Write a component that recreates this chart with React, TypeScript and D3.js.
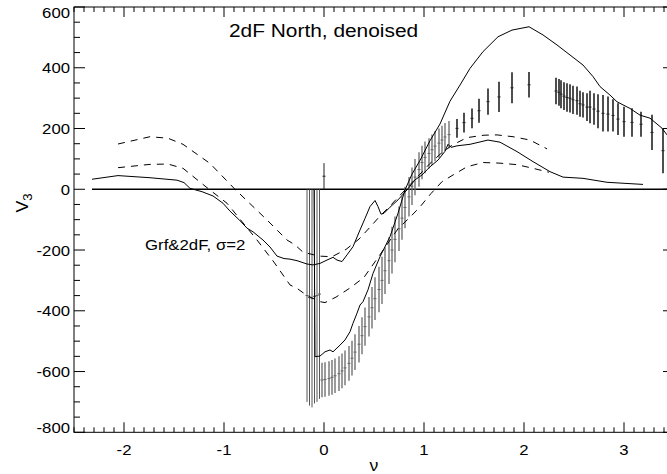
import * as d3 from 'd3';

// Grf&2dF, sigma=2 (solid, lower)
const grfNu = [-2.32, -2.06, -1.74, -1.47, -1.40, -1.34, -1.22, -1.11, -1.01, -0.94, -0.85, -0.77, -0.71, -0.61, -0.54, -0.47, -0.40, -0.34, -0.27, -0.17, -0.11, -0.04, 0.03, 0.09, 0.13, 0.18, 0.23, 0.29, 0.36, 0.41, 0.46, 0.51, 0.54, 0.57, 0.60, 0.66, 0.74, 0.83, 0.91, 0.98, 1.06, 1.14, 1.21, 1.24, 1.27, 1.33, 1.46, 1.64, 1.76, 1.93, 2.09, 2.26, 2.39, 2.59, 2.83, 3.19];
const grfV = [33, 45, 38, 30, 22, 3, -8, -22, -46, -72, -100, -128, -140, -167, -190, -220, -228, -230, -235, -246, -249, -244, -233, -224, -233, -238, -216, -189, -134, -96, -57, -37, -57, -82, -79, -59, -35, -2, 31, 47, 74, 96, 125, 148, 138, 143, 148, 162, 155, 124, 91, 58, 40, 36, 23, 16];

// 2dF North (solid, upper)
const obsNu = [-0.10, -0.09, -0.04, 0.01, 0.06, 0.09, 0.16, 0.21, 0.26, 0.29, 0.33, 0.36, 0.39, 0.44, 0.49, 0.56, 0.66, 0.74, 0.81, 0.88, 0.96, 1.06, 1.16, 1.26, 1.36, 1.46, 1.59, 1.74, 1.88, 2.05, 2.19, 2.33, 2.46, 2.59, 2.69, 2.76, 2.86, 2.93, 3.06, 3.16, 3.26, 3.38, 3.43, 3.50];
const obsV = [0, -551, -549, -535, -529, -535, -513, -496, -469, -441, -408, -381, -370, -331, -277, -222, -156, -79, -2, 50, 95, 160, 215, 290, 343, 398, 453, 502, 524, 535, 508, 475, 442, 409, 371, 338, 310, 288, 266, 244, 234, 201, 179, 165];

// dashed bands
const hiNu = [-2.06, -1.74, -1.56, -1.41, -1.14, -0.89, -0.57, -0.37, -0.29, -0.21, -0.05, 0.08, 0.22, 0.35, 0.46, 0.56, 0.66, 0.76, 0.86, 0.96, 1.06, 1.16, 1.28, 1.43, 1.60, 1.73, 1.89, 2.06, 2.13, 2.23];
const hiV = [149, 173, 168, 148, 85, 0, -101, -167, -183, -207, -220, -222, -198, -164, -125, -88, -55, -20, 15, 50, 85, 115, 145, 170, 178, 179, 173, 162, 150, 133];
const loNu = [-2.06, -1.74, -1.56, -1.41, -1.15, -0.97, -0.67, -0.50, -0.34, -0.27, -0.17, -0.04, 0.01, 0.12, 0.26, 0.40, 0.55, 0.74, 0.86, 0.96, 1.07, 1.18, 1.29, 1.43, 1.59, 1.76, 1.93, 2.09, 2.25];
const loV = [71, 82, 83, 69, 0, -46, -167, -240, -315, -326, -350, -370, -373, -355, -325, -290, -220, -130, -92, -58, -14, 25, 47, 74, 88, 86, 81, 69, 56];

// error bars, dense part
const barNu = [-0.02, 0.01, 0.05, 0.08, 0.11, 0.15, 0.18, 0.21, 0.25, 0.28, 0.31, 0.35, 0.38, 0.41, 0.45, 0.48, 0.51, 0.55, 0.58, 0.61, 0.65, 0.68, 0.71, 0.75, 0.78, 0.81, 0.85, 0.88, 0.91, 0.95, 0.98, 1.01, 1.05, 1.08, 1.11, 1.15, 1.18, 1.21, 1.25];
const barLo = [-685, -683, -680, -676, -671, -664, -655, -645, -630, -613, -595, -570, -543, -515, -485, -458, -430, -405, -378, -345, -312, -277, -240, -203, -166, -128, -90, -52, -20, 8, 33, 53, 68, 80, 92, 104, 115, 126, 135];
const barHi = [-571, -569, -566, -562, -557, -550, -541, -531, -516, -499, -477, -450, -421, -389, -355, -322, -290, -255, -222, -191, -158, -123, -90, -57, -24, 8, 40, 72, 100, 122, 143, 157, 168, 180, 192, 200, 209, 218, 225];

// error bars near nu=0
const nearNu = [-0.17, -0.145, -0.12, -0.095, -0.07, -0.045];
const nearLo = [-700, -712, -718, -705, -700, -690];
const nearHi = [0, 0, 0, 0, 0, 0];
const spikeNu = [0.0];
const spikeLo = [0];
const spikeHi = [86];

// error bars, sparse + right cluster
const sparseNu = [1.33, 1.40, 1.48, 1.55, 1.64, 1.75, 1.88, 2.05, 2.32, 2.35, 2.37, 2.40, 2.43, 2.46, 2.49, 2.53, 2.56, 2.59, 2.63, 2.66, 2.70, 2.74, 2.79, 2.84, 2.89, 2.94, 3.00, 3.08, 3.17, 3.28, 3.39];
const sparseLo = [170, 187, 201, 219, 245, 254, 283, 302, 280, 275, 267, 261, 255, 253, 248, 245, 239, 236, 225, 217, 212, 201, 190, 190, 190, 179, 173, 173, 173, 129, 53];
const sparseHi = [231, 252, 266, 298, 332, 354, 385, 386, 367, 363, 359, 352, 349, 346, 341, 338, 324, 319, 316, 324, 316, 313, 310, 305, 296, 283, 272, 267, 255, 245, 201];

const xTicks = [-2, -1, 0, 1, 2, 3];
const yTicks = [-800, -600, -400, -200, 0, 200, 400, 600];

const FONT = "'Liberation Sans', Arial, Helvetica, sans-serif";

export default function App() {
  const x = d3.scaleLinear().domain([-2.5, 3.5]).range([74, 674]);
  const y = d3.scaleLinear().domain([-800, 600]).range([432.3, 7]);
  const [x0, x1] = x.range();
  const [yb, yt] = y.range();

  const line = (nu: number[], v: number[]) =>
    d3.line<number>().x((_, i) => x(nu[i])).y((_, i) => y(v[i]))(nu) || '';

  const xMinor = d3.range(-25, 36).map(i => i / 10);
  const yMinor = d3.range(-800, 601, 50);

  const bars = (nu: number[], lo: number[], hi: number[], color: string, w: number, key: string) =>
    nu.map((n, i) => {
      const mid = (lo[i] + hi[i]) / 2;
      return (
        <g key={key + i}>
          <line x1={x(n)} x2={x(n)} y1={y(lo[i])} y2={y(hi[i])} stroke={color} strokeWidth={w} />
          <line x1={x(n) - 1.5} x2={x(n) + 1.5} y1={y(mid)} y2={y(mid)} stroke={color} strokeWidth={1} />
        </g>
      );
    });

  return (
    <svg width={667} height={474} style={{ position: 'absolute', left: 0, top: 0, background: '#fff' }} fontFamily={FONT}>
      <defs>
        <clipPath id="plot">
          <rect x={x0} y={yt} width={x1 - x0} height={yb - yt} />
        </clipPath>
      </defs>

      <g clipPath="url(#plot)" fill="none">
        <line x1={x(-2.32)} x2={x(3.5)} y1={y(0)} y2={y(0)} stroke="#000" strokeWidth={1.3} />
        {bars(nearNu, nearLo, nearHi, '#555', 1, 'n')}
        {bars(spikeNu, spikeLo, spikeHi, '#222', 1, 'k')}
        {bars(barNu, barLo, barHi, '#666', 1.3, 'b')}
        {bars(sparseNu, sparseLo, sparseHi, '#222', 1.6, 's')}
        <path d={line(hiNu, hiV)} stroke="#000" strokeWidth={1} strokeDasharray="7,6" />
        <path d={line(loNu, loV)} stroke="#000" strokeWidth={1} strokeDasharray="7,6" />
        <path d={line(grfNu, grfV)} stroke="#000" strokeWidth={1} />
        <path d={line(obsNu, obsV)} stroke="#000" strokeWidth={1} />
      </g>

      {/* frame */}
      <rect x={x0} y={yt} width={x1 - x0} height={yb - yt} fill="none" stroke="#000" strokeWidth={1} />

      {/* x ticks, bottom and top */}
      {xMinor.map(t => {
        const major = xTicks.some(m => Math.abs(m - t) < 1e-6);
        const len = major ? 10 : 5;
        return (
          <g key={'xt' + t} stroke="#000" strokeWidth={1}>
            <line x1={x(t)} x2={x(t)} y1={yb} y2={yb - len} />
            <line x1={x(t)} x2={x(t)} y1={yt} y2={yt + len} />
          </g>
        );
      })}
      {/* y ticks, left and right */}
      {yMinor.map(t => {
        const major = t % 200 === 0;
        const len = major ? 11 : 6;
        return (
          <g key={'yt' + t} stroke="#000" strokeWidth={1}>
            <line x1={x0} x2={x0 + len} y1={y(t)} y2={y(t)} />
            <line x1={x1} x2={x1 - len} y1={y(t)} y2={y(t)} />
          </g>
        );
      })}

      {xTicks.map(t => (
        <text key={'xl' + t} transform={`translate(${x(t)},455) scale(1.08,1)`} textAnchor="middle" fontSize={15.5}>{t}</text>
      ))}
      {yTicks.map(t => {
        let cy = y(t);
        if (t === 600) cy = 12.5;
        if (t === -800) cy = 427;
        return (
          <text key={'yl' + t} transform={`translate(70,${cy + 5.5}) scale(1.08,1)`} textAnchor="end" fontSize={15.5}>{t}</text>
        );
      })}

      <text transform="translate(374,471) scale(1.1,1)" textAnchor="middle" fontSize={16}>ν</text>
      <text transform="translate(28,203) rotate(-90) scale(1.1,1)" textAnchor="middle" fontSize={16}>
        V<tspan dy={4} fontSize={12}>3</tspan>
      </text>

      <text transform="translate(229,37) scale(1.16,1)" fontSize={18}>2dF North, denoised</text>
      <text transform="translate(145,250) scale(1.2,1)" fontSize={14}>Grf&amp;2dF, σ=2</text>
    </svg>
  );
}
